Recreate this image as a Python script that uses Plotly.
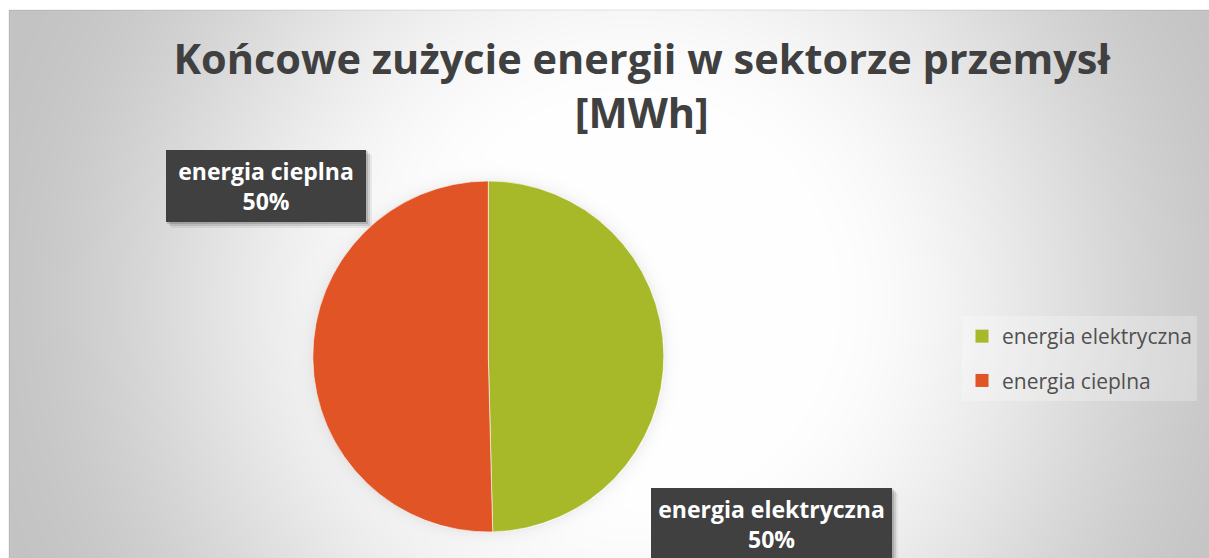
import base64, struct, zlib
import numpy as np
import plotly.graph_objects as go

# ---------------- data ----------------
categories = ["energia elektryczna", "energia cieplna"]
values = [49.6, 50.4]
colors = ["#a7b829", "#e05426"]
title_text = "Końcowe zużycie energii w sektorze przemysł<br>[MWh]"

# ---------------- geometry helpers (screen px -> paper) ----------------
FIG_W, FIG_H = 1209, 558
ML, MT = 9, 10
PW, PH = FIG_W - ML, FIG_H - MT


def px(sx):
    return (sx - ML) / PW


def py(sy):
    return 1 - (sy - MT) / PH


# ---------------- background radial gradient image ----------------
def png_gray(arr):
    h, w = arr.shape
    raw = b"".join(b"\x00" + arr[i].tobytes() for i in range(h))

    def chunk(tag, data):
        c = struct.pack(">I", len(data)) + tag + data
        return c + struct.pack(">I", zlib.crc32(tag + data) & 0xFFFFFFFF)

    ihdr = struct.pack(">IIBBBBB", w, h, 8, 0, 0, 0, 0)
    return (b"\x89PNG\r\n\x1a\n" + chunk(b"IHDR", ihdr)
            + chunk(b"IDAT", zlib.compress(raw, 9)) + chunk(b"IEND", b""))


yy, xx = np.mgrid[0:PH, 0:PW].astype(float)
cx, cy = 630 - ML, 300 - MT
r = np.hypot(xx - cx, yy - cy)
t = np.clip((r - 170) / (690 - 170), 0, 1)
t = 3 * t ** 2 - 2 * t ** 3
bg = 255 - 60 * t
# soft halo around pie
pcx, pcy, pr = 488.3 - ML, 356.5 - MT, 175.5
d = np.hypot(xx - pcx, yy - pcy) - pr
halo = np.where(d > 0, np.exp(-d / 6.0) * 14, 0)
bg = np.clip(bg - halo, 0, 255).astype(np.uint8)
img_src = "data:image/png;base64," + base64.b64encode(png_gray(bg)).decode()

# ---------------- figure ----------------
fig = go.Figure()

fig.add_trace(go.Pie(
    labels=categories,
    values=values,
    sort=False,
    direction="clockwise",
    rotation=0,
    marker=dict(colors=colors, line=dict(color="rgba(255,255,255,0.6)", width=1)),
    textinfo="none",
    showlegend=False,
    domain=dict(x=[px(312.8), px(663.8)], y=[py(532), py(181)]),
))

# legend entries
for i, (name, col) in enumerate(zip(categories, colors)):
    fig.add_trace(go.Scatter(
        x=[None], y=[None], mode="markers", name=name,
        marker=dict(symbol="square", size=13, color=col),
        legendgroup=f"g{i}", showlegend=True,
    ))

# percentage labels in boxes
total = sum(values)
pct = [round(v / total * 100) for v in values]
boxes = [  # (center x, center y, width, height) in screen px
    (771.5, 524, 241, 72),
    (266, 186, 200, 72),
]
shapes = []
annotations = []
for (bx, by, bw, bh), name, p in zip(boxes, categories, pct):
    for off, a in [(6, 0.06), (4, 0.10), (2, 0.14)]:
        shapes.append(dict(
            type="rect", xref="paper", yref="paper", layer="below",
            x0=px(bx - bw / 2 + off - 1), x1=px(bx + bw / 2 + off),
            y0=py(by + bh / 2 + off), y1=py(by - bh / 2 + off - 1),
            fillcolor=f"rgba(0,0,0,{a})", line=dict(width=0),
        ))
    annotations.append(dict(
        xref="paper", yref="paper", x=px(bx), y=py(by),
        xanchor="center", yanchor="middle",
        text=f"<b>{name}<br>{p}%</b>", showarrow=False,
        width=bw, height=bh, borderpad=0, borderwidth=0,
        bgcolor="#404040",
        font=dict(family="Open Sans", size=23, color="white"),
        align="center", valign="middle",
    ))

shapes.append(dict(type="rect", xref="paper", yref="paper", x0=0, x1=1.01, y0=-0.01, y1=1,
                   line=dict(color="rgba(0,0,0,0.10)", width=1), fillcolor="rgba(0,0,0,0)",
                   layer="above"))

fig.update_layout(
    width=FIG_W, height=FIG_H,
    margin=dict(l=ML, t=MT, r=0, b=0, pad=0),
    paper_bgcolor="white",
    plot_bgcolor="rgba(0,0,0,0)",
    xaxis=dict(visible=False),
    yaxis=dict(visible=False),
    images=[dict(source=img_src, xref="paper", yref="paper", x=0, y=1,
                 sizex=1, sizey=1, sizing="stretch", xanchor="left", yanchor="top",
                 layer="below")],
    title=dict(text=f"<b>{title_text}</b>", x=px(646), xanchor="center",
               y=1 - 74 / FIG_H, yanchor="top", yref="container",
               font=dict(family="Open Sans", size=41.5, color="#404040")),
    legend=dict(x=px(962), y=py(316), xanchor="left", yanchor="top",
                bgcolor="rgba(255,255,255,0.25)", tracegroupgap=14,
                traceorder="grouped",
                font=dict(family="Open Sans", size=21, color="#505050")),
    shapes=shapes,
    annotations=annotations,
)

fig.write_html("out.html", config={"displayModeBar": False},
               post_script="document.body.style.margin='0';")
